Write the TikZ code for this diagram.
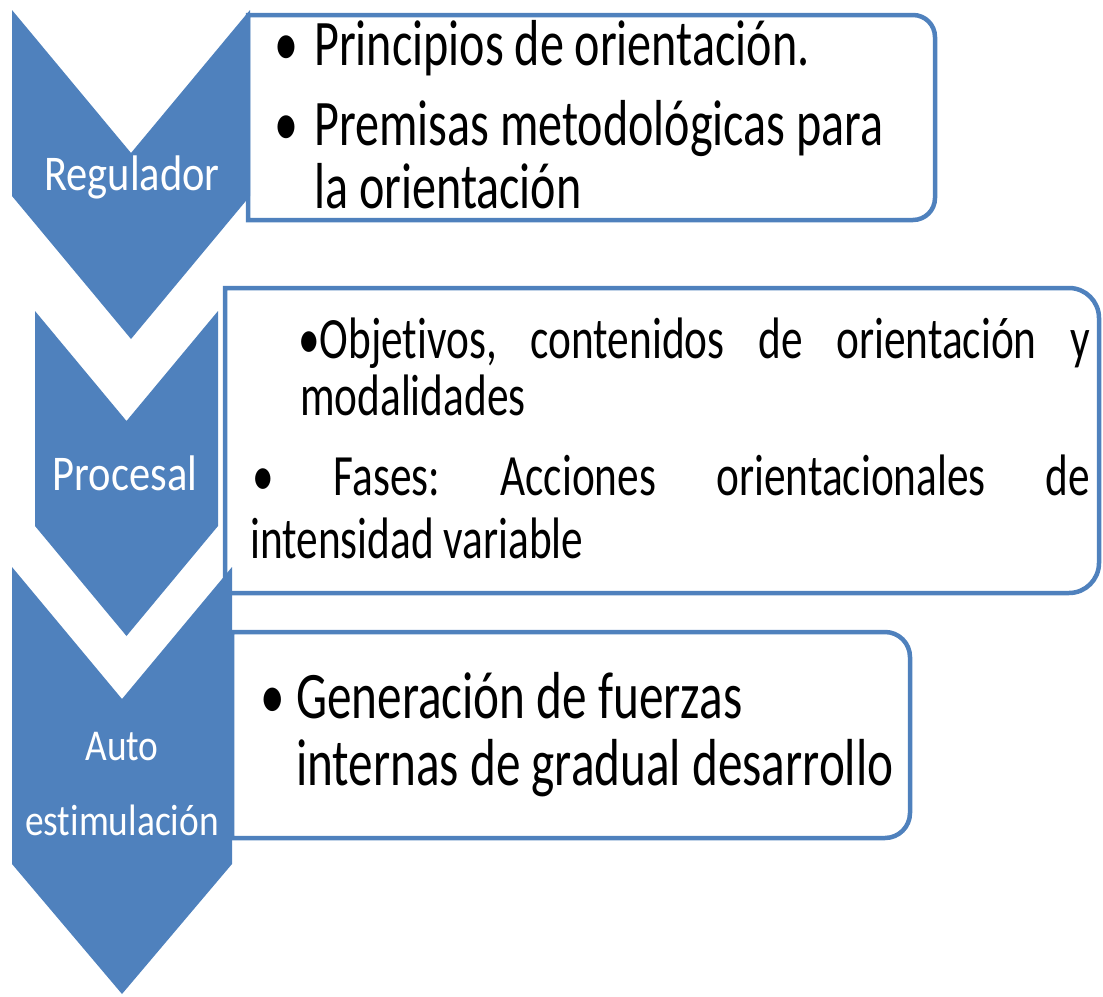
\documentclass[tikz,border=0pt]{standalone}
\usepackage{fontspec}
\setmainfont{Carlito}
\newfontfamily\bodyf[FakeStretch=0.74,RawFeature={-liga}]{Carlito}
\newfontfamily\chevf[FakeStretch=0.85,RawFeature={-liga}]{Carlito}
\definecolor{accent}{HTML}{4F81BD}
\frenchspacing
\begin{document}
\begin{tikzpicture}[x=1pt,y=-1pt,
  chevron/.style={fill=accent, draw=none},
  textbox/.style={draw=accent, line width=4.5pt, fill=white},
  chevlabel/.style={text=white, font=\chevf\fontsize{50}{50}\selectfont, inner sep=0pt, anchor=base},
  chevlabelsm/.style={text=white, font=\chevf\fontsize{44}{44}\selectfont, inner sep=0pt, anchor=base},
  bigline/.style={font=\bodyf\fontsize{65}{65}\selectfont, inner sep=0pt, anchor=base west},
  bigline3/.style={font=\bodyf\fontsize{66.5}{66}\selectfont, inner sep=0pt, anchor=base west},
  midline/.style={font=\bodyf\fontsize{58.5}{58}\selectfont\frenchspacing, inner sep=0pt, anchor=base west},
]
\useasboundingbox (0,0) rectangle (1103,996);

% text boxes (right corners rounded)
\draw[textbox] (600,15) [rounded corners=22pt] -- (935,15) -- (935,220) -- (600,220) [sharp corners] -- (248,220) -- (248,15) -- cycle;
\draw[textbox] (600,288) [rounded corners=30pt] -- (1099,288) -- (1099,593) -- (600,593) [sharp corners] -- (225,593) -- (225,288) -- cycle;
\draw[textbox] (600,632) [rounded corners=25pt] -- (910,632) -- (910,838) -- (600,838) [sharp corners] -- (232,838) -- (232,632) -- cycle;

% chevrons
\fill[chevron] (12,10) -- (131,153) -- (250,10) -- (250,196) -- (131,339) -- (12,196) -- cycle;
\fill[chevron] (35,311) -- (126.5,421) -- (218,311) -- (218,526) -- (126.5,636) -- (35,526) -- cycle;
\fill[chevron] (12,567) -- (122,699) -- (232,567) -- (232,864) -- (122,994) -- (12,864) -- cycle;

% chevron labels
\node[chevlabel] (reg) at (132,190) {Regulador};
\node[chevlabel] (proc) at (125,490) {Procesal};
\node[chevlabelsm] (auto) at (122,760) {Auto};
\node[chevlabelsm] (estim) at (122,835) {estimulación};

% box 1 text
\node[bigline] (p1) at (274,65) {\makebox[40pt][l]{•}Principios de orientación.};
\node[bigline] (p2) at (274,145) {\makebox[40pt][l]{•}Premisas metodológicas para};
\node[bigline] (p3) at (314,208) {la orientación};

% box 2 text
\node[midline] (o1) at (298,358) {\makebox[792pt][s]{•Objetivos, contenidos de orientación y}};
\node[midline] (o2) at (300,415) {modalidades};
\node[midline] (o3) at (252,495) {\makebox[838pt][s]{• Fases: Acciones orientacionales de}};
\node[midline] (o4) at (250,558) {intensidad variable};

% box 3 text
\node[bigline3] (g1) at (260,718) {\makebox[36pt][l]{•}Generación de fuerzas};
\node[bigline3] (g2) at (296,785) {internas de gradual desarrollo};
\end{tikzpicture}
\end{document}
